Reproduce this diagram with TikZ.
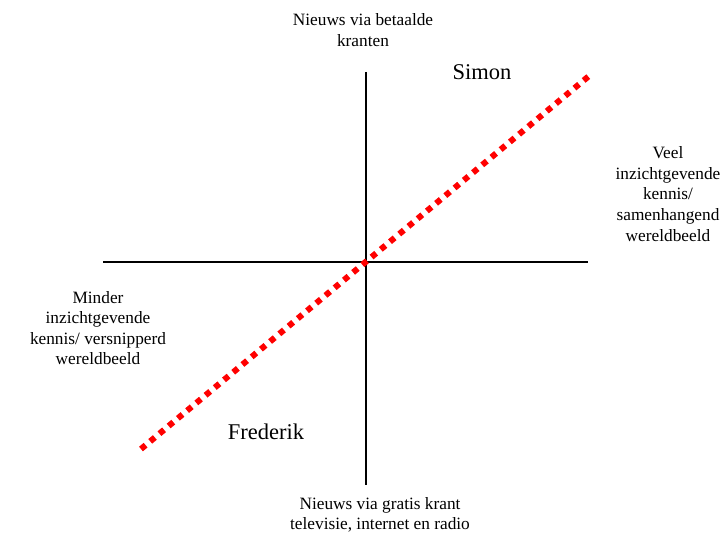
\documentclass[tikz,border=0pt]{standalone}
\usepackage{fontspec}
\setmainfont{Liberation Serif}
\begin{document}
\begin{tikzpicture}[x=1pt,y=-1pt,
  axis/.style={line width=1.6pt,black},
  reddots/.style={red,line width=6pt,dash pattern=on 6pt off 6pt},
  lbl/.style={align=center,font=\fontsize{17.3}{20.6}\selectfont,inner sep=0pt},
  person/.style={font=\fontsize{22.5}{26}\selectfont,inner sep=0pt}]
\useasboundingbox (0,0) rectangle (728,535);
\coordinate (L) at (103,262);
\coordinate (R) at (588,262);
\coordinate (T) at (366,72);
\coordinate (B) at (366,485);
\coordinate (D1) at (141,449);
\coordinate (D2) at (589,76);
\draw[axis] (L) -- (R);
\draw[axis] (T) -- (B);
\draw[reddots] (D1) -- (D2);
\node[lbl] (top) at (363,30) {Nieuws via betaalde\\kranten};
\node[lbl] (bot) at (380,515) {Nieuws via gratis krant\\televisie, internet en radio};
\node[lbl] (right) at (668,194) {Veel\\inzichtgevende\\kennis/\\samenhangend\\wereldbeeld};
\node[lbl] (left) at (98,328) {Minder\\inzichtgevende\\kennis/ versnipperd\\wereldbeeld};
\node[person] (simon) at (482,72) {Simon};
\node[person] (fred) at (266,432) {Frederik};
\end{tikzpicture}
\end{document}
